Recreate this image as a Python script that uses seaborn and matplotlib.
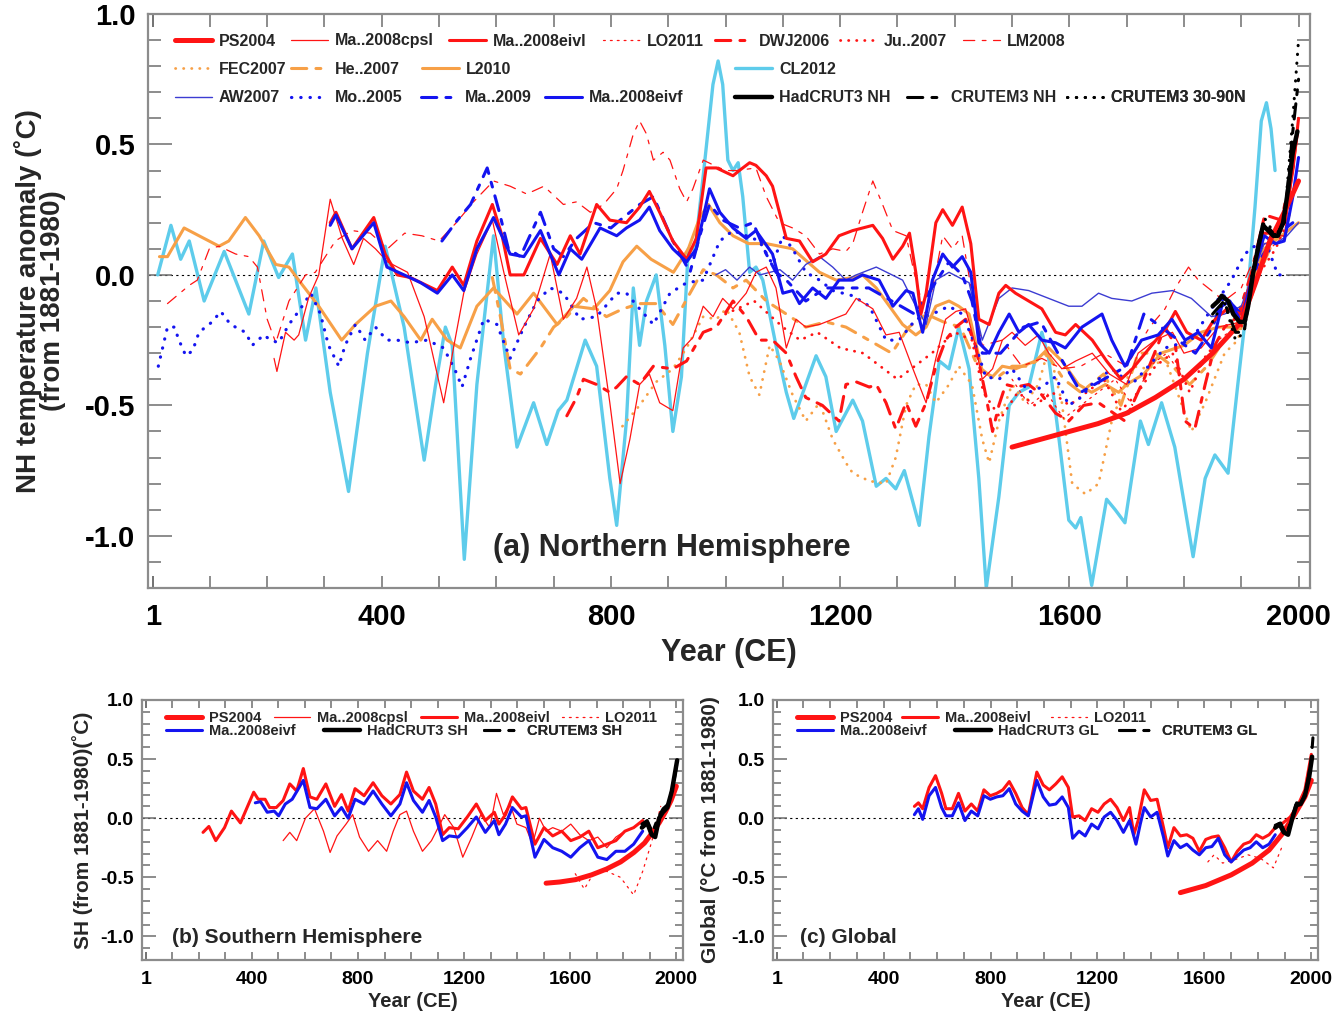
import matplotlib
matplotlib.use("Agg")
import matplotlib.pyplot as plt
from matplotlib.lines import Line2D
from matplotlib.ticker import FixedLocator, MultipleLocator, FuncFormatter
import seaborn as sns

# ---------------------------------------------------------------------------
# (a) Northern Hemisphere reconstructions: year CE, anomaly (degC, 1881-1980)
# ---------------------------------------------------------------------------
ps2004_yr = [1500, 1550, 1600, 1650, 1700, 1750, 1800, 1850, 1875, 1900, 1925, 1950, 1975, 2000]
ps2004_t = [-0.66, -0.63, -0.60, -0.57, -0.53, -0.47, -0.40, -0.30, -0.24, -0.18, -0.03, 0.13, 0.24, 0.36]

cpsl_yr = [212, 217, 232, 247, 255, 272, 290, 310, 331, 351, 368, 389, 410, 445, 474, 508, 526, 543,
           566, 593, 613, 639, 665, 694, 717, 740, 758, 775, 798, 816, 833, 850, 867, 885, 908, 926,
           943, 961, 978, 995, 1013, 1036, 1053, 1071, 1088, 1106, 1123, 1140, 1164, 1187, 1210, 1228,
           1257, 1280, 1303, 1327, 1350, 1367, 1384, 1402, 1419, 1436, 1448, 1466, 1483, 1500, 1523,
           1546, 1564, 1587, 1611, 1640, 1670, 1700, 1720, 1750, 1780, 1800, 1830, 1860, 1900, 1930,
           1950, 1975, 2000]
cpsl_t = [-0.32, -0.37, -0.22, -0.25, -0.23, -0.09, 0.00, 0.29, 0.14, 0.04, 0.14, 0.10, 0.05, 0.01,
          -0.16, -0.49, -0.27, -0.07, 0.08, 0.21, 0.01, -0.23, -0.13, 0.08, -0.17, -0.09, 0.03, -0.13,
          -0.49, -0.80, -0.63, -0.42, -0.38, -0.49, -0.52, -0.28, -0.24, -0.12, -0.16, -0.09, -0.13,
          -0.07, 0.01, 0.03, -0.05, -0.28, -0.17, -0.20, -0.19, -0.17, -0.15, -0.09, -0.13, -0.23,
          -0.22, -0.36, -0.49, -0.32, -0.17, -0.14, -0.13, -0.27, -0.40, -0.36, -0.25, -0.22, -0.27,
          -0.23, -0.30, -0.36, -0.33, -0.30, -0.38, -0.42, -0.30, -0.25, -0.22, -0.30, -0.28, -0.20,
          -0.18, 0.00, 0.15, 0.15, 0.55]

eivl_yr = [310, 320, 348, 386, 406, 427, 450, 497, 523, 543, 566, 593, 610, 624, 648, 677, 706, 729,
           746, 775, 798, 827, 850, 867, 885, 908, 932, 949, 966, 984, 1013, 1024, 1042, 1053, 1071,
           1082, 1106, 1129, 1152, 1175, 1198, 1222, 1257, 1274, 1292, 1309, 1321, 1332, 1341, 1350,
           1367, 1379, 1396, 1413, 1428, 1442, 1460, 1477, 1489, 1506, 1529, 1552, 1576, 1593, 1611,
           1640, 1665, 1690, 1710, 1740, 1770, 1785, 1805, 1830, 1850, 1875, 1900, 1920, 1940, 1960,
           1975, 1990, 2000]
eivl_t = [0.20, 0.24, 0.10, 0.22, 0.08, 0.00, -0.01, -0.06, 0.03, -0.04, 0.13, 0.27, 0.15, 0.00, 0.00,
          0.14, 0.04, 0.15, 0.08, 0.27, 0.21, 0.20, 0.26, 0.32, 0.24, 0.13, 0.06, 0.14, 0.41, 0.41,
          0.38, 0.40, 0.43, 0.42, 0.38, 0.34, 0.14, 0.13, 0.05, 0.08, 0.15, 0.17, 0.19, 0.14, 0.06,
          0.11, 0.16, 0.01, -0.15, -0.07, 0.20, 0.25, 0.19, 0.26, 0.12, -0.17, -0.19, -0.07, -0.04,
          -0.07, -0.10, -0.13, -0.22, -0.23, -0.19, -0.25, -0.33, -0.40, -0.36, -0.28, -0.20, -0.14,
          -0.22, -0.25, -0.18, -0.13, -0.15, 0.00, 0.16, 0.16, 0.20, 0.40, 0.60]

lo2011_yr = [1500, 1530, 1560, 1590, 1620, 1650, 1680, 1710, 1740, 1770, 1800, 1830, 1860, 1890, 1920, 1950, 1975]
lo2011_t = [-0.40, -0.50, -0.45, -0.55, -0.50, -0.45, -0.40, -0.50, -0.35, -0.30, -0.40, -0.35, -0.25, -0.20, -0.05, 0.10, 0.15]

dwj_yr = [723, 740, 752, 775, 798, 810, 827, 850, 874, 908, 932, 961, 984, 1013, 1036, 1059, 1082,
          1106, 1123, 1140, 1169, 1198, 1210, 1228, 1251, 1263, 1280, 1297, 1315, 1332, 1350, 1367,
          1384, 1402, 1419, 1436, 1454, 1466, 1477, 1489, 1506, 1529, 1552, 1576, 1599, 1625, 1651,
          1697, 1732, 1767, 1785, 1802, 1819, 1837, 1854, 1871, 1894, 1918, 1941, 1970, 1993]
dwj_t = [-0.54, -0.47, -0.40, -0.42, -0.45, -0.43, -0.39, -0.42, -0.35, -0.36, -0.33, -0.22, -0.20,
         -0.10, -0.16, -0.25, -0.25, -0.30, -0.39, -0.47, -0.50, -0.56, -0.42, -0.41, -0.43, -0.42,
         -0.49, -0.59, -0.49, -0.58, -0.49, -0.35, -0.25, -0.20, -0.17, -0.27, -0.46, -0.60, -0.50,
         -0.42, -0.43, -0.42, -0.46, -0.53, -0.56, -0.50, -0.49, -0.56, -0.39, -0.20, -0.27, -0.56,
         -0.59, -0.42, -0.27, -0.20, -0.16, 0.01, 0.23, 0.21, 0.44]

ju2007_yr = [1000, 1050, 1100, 1130, 1160, 1200, 1240, 1270, 1300, 1330, 1360, 1400, 1430, 1450, 1480,
             1510, 1540, 1570, 1600, 1630, 1660, 1690, 1720, 1750, 1780, 1810, 1840, 1870, 1900, 1930,
             1960, 1980]
ju2007_t = [-0.15, -0.10, -0.20, -0.25, -0.22, -0.28, -0.30, -0.35, -0.40, -0.35, -0.30, -0.22, -0.25,
            -0.45, -0.55, -0.45, -0.50, -0.45, -0.50, -0.45, -0.40, -0.52, -0.45, -0.35, -0.30, -0.45,
            -0.30, -0.25, -0.20, 0.00, 0.10, 0.20]

lm2008_yr = [26, 64, 78, 99, 116, 145, 168, 183, 200, 215, 238, 267, 284, 319, 348, 380, 410, 440, 470,
             500, 530, 560, 595, 624, 653, 683, 717, 740, 764, 787, 810, 821, 839, 850, 862, 874, 891,
             903, 920, 932, 943, 961, 980, 1000, 1020, 1053, 1071, 1094, 1117, 1140, 1164, 1187, 1210,
             1222, 1239, 1257, 1274, 1292, 1315, 1332, 1350, 1367, 1379, 1396, 1413, 1430, 1448, 1483,
             1517, 1552, 1587, 1620, 1660, 1700, 1740, 1767, 1785, 1808, 1825, 1848, 1870, 1900, 1930,
             1960, 1990]
lm2008_t = [-0.11, -0.04, -0.02, 0.10, 0.11, 0.08, 0.07, 0.03, -0.17, -0.26, -0.10, 0.00, 0.01, 0.13,
            0.17, 0.16, 0.10, 0.16, 0.15, 0.13, 0.20, 0.28, 0.36, 0.34, 0.31, 0.34, 0.27, 0.28, 0.24,
            0.27, 0.33, 0.40, 0.54, 0.59, 0.54, 0.44, 0.47, 0.44, 0.33, 0.28, 0.33, 0.44, 0.42, 0.40,
            0.40, 0.41, 0.30, 0.20, 0.18, 0.15, 0.08, 0.10, 0.09, 0.12, 0.24, 0.36, 0.27, 0.17, 0.15,
            -0.02, -0.16, 0.01, 0.15, 0.10, 0.15, -0.07, -0.27, -0.25, -0.35, -0.32, -0.36, -0.35,
            -0.30, -0.35, -0.20, -0.13, -0.05, 0.03, -0.02, -0.06, -0.10, -0.05, 0.10, 0.15, 0.30]

fec_yr = [820, 850, 879, 908, 932, 961, 984, 1001, 1024, 1042, 1059, 1077, 1094, 1117, 1140, 1164,
          1187, 1210, 1222, 1251, 1280, 1297, 1315, 1332, 1350, 1367, 1390, 1407, 1430, 1448, 1460,
          1477, 1500, 1523, 1546, 1564, 1587, 1605, 1628, 1651, 1674, 1709, 1738, 1767, 1813, 1837,
          1871, 1894, 1918, 1941, 1964, 1987]
fec_t = [-0.58, -0.50, -0.41, -0.36, -0.28, -0.16, -0.17, -0.13, -0.22, -0.39, -0.46, -0.27, -0.33,
         -0.46, -0.56, -0.49, -0.63, -0.72, -0.76, -0.79, -0.80, -0.70, -0.50, -0.42, -0.42, -0.49,
         -0.42, -0.35, -0.42, -0.63, -0.72, -0.56, -0.42, -0.49, -0.42, -0.28, -0.49, -0.80, -0.84,
         -0.80, -0.56, -0.35, -0.36, -0.32, -0.60, -0.49, -0.30, -0.25, -0.06, 0.15, 0.18, 0.29]

he2007_yr = [593, 607, 624, 642, 677, 700, 723, 752, 792, 821, 850, 879, 908, 938, 961, 984, 1013, 1036,
             1071, 1106, 1140, 1175, 1210, 1250, 1290, 1320, 1350, 1380, 1410, 1440, 1470, 1500, 1530,
             1560, 1590, 1620, 1660, 1690, 1720, 1750, 1780, 1810, 1840, 1870, 1900, 1930, 1960, 1990]
he2007_t = [-0.01, -0.16, -0.36, -0.38, -0.28, -0.20, -0.16, -0.09, -0.16, -0.13, -0.11, -0.11, -0.19,
            -0.07, 0.02, 0.00, -0.05, -0.02, -0.10, -0.15, -0.20, -0.18, -0.20, -0.25, -0.30, -0.20,
            -0.15, -0.18, -0.20, -0.35, -0.40, -0.35, -0.35, -0.30, -0.40, -0.45, -0.38, -0.50, -0.30,
            -0.30, -0.35, -0.42, -0.35, -0.25, -0.20, 0.00, 0.15, 0.25]

l2010_yr = [12, 26, 55, 81, 116, 133, 162, 186, 215, 238, 255, 290, 330, 354, 389, 416, 439, 468, 488,
            514, 537, 566, 595, 636, 665, 706, 735, 770, 798, 821, 845, 870, 909, 935, 955, 970, 990,
            1013, 1040, 1071, 1117, 1164, 1193, 1222, 1239, 1263, 1286, 1309, 1332, 1350, 1367, 1390,
            1407, 1425, 1448, 1466, 1483, 1506, 1541, 1564, 1587, 1616, 1639, 1663, 1686, 1700, 1730,
            1760, 1800, 1830, 1860, 1890, 1910, 1940, 1970, 2000]
l2010_t = [0.07, 0.07, 0.18, 0.15, 0.11, 0.13, 0.22, 0.15, 0.04, 0.03, -0.02, -0.12, -0.25, -0.19,
           -0.12, -0.10, -0.16, -0.25, -0.17, -0.25, -0.28, -0.12, -0.05, -0.15, -0.07, -0.19, -0.12,
           -0.13, -0.06, 0.05, 0.11, 0.06, 0.01, 0.10, 0.22, 0.27, 0.20, 0.15, 0.12, 0.12, 0.10, 0.01,
           -0.02, -0.01, 0.00, -0.05, -0.12, -0.19, -0.23, -0.20, -0.12, -0.10, -0.12, -0.15, -0.37,
           -0.39, -0.35, -0.36, -0.33, -0.28, -0.33, -0.42, -0.45, -0.42, -0.45, -0.42, -0.38, -0.30,
           -0.27, -0.22, -0.20, -0.20, -0.10, 0.10, 0.15, 0.20]

cl2012_yr = [9, 32, 49, 64, 90, 125, 168, 194, 220, 244, 267, 285, 310, 342, 375, 406, 439, 474, 494,
             511, 523, 544, 566, 595, 613, 636, 665, 688, 708, 723, 755, 775, 798, 810, 827, 839, 850,
             862, 879, 894, 908, 923, 935, 947, 961, 978, 987, 995, 1004, 1013, 1022, 1030, 1042, 1053,
             1065, 1088, 1106, 1119, 1140, 1158, 1175, 1193, 1222, 1239, 1263, 1280, 1297, 1312, 1338,
             1355, 1373, 1390, 1407, 1425, 1442, 1455, 1477, 1495, 1512, 1529, 1552, 1564, 1582, 1599,
             1611, 1620, 1639, 1665, 1680, 1697, 1724, 1738, 1761, 1784, 1816, 1837, 1854, 1877, 1894,
             1909, 1924, 1935, 1944, 1952, 1959]
cl2012_t = [0.00, 0.19, 0.06, 0.13, -0.10, 0.09, -0.15, 0.13, -0.01, 0.08, -0.25, -0.05, -0.45, -0.83,
            -0.30, 0.11, -0.20, -0.71, -0.42, -0.20, -0.27, -1.09, -0.42, 0.15, -0.27, -0.66, -0.49,
            -0.65, -0.52, -0.48, -0.25, -0.35, -0.78, -0.96, -0.56, -0.05, -0.27, -0.10, 0.00, -0.27,
            -0.60, -0.39, 0.10, 0.10, 0.38, 0.73, 0.82, 0.73, 0.44, 0.40, 0.43, 0.30, 0.01, 0.03, -0.02,
            -0.27, -0.45, -0.55, -0.42, -0.31, -0.39, -0.60, -0.48, -0.56, -0.81, -0.78, -0.82, -0.75,
            -0.96, -0.62, -0.33, -0.36, -0.20, -0.36, -0.78, -1.20, -0.85, -0.50, -0.45, -0.43, -0.22,
            -0.32, -0.63, -0.94, -0.97, -0.93, -1.19, -0.86, -0.90, -0.95, -0.56, -0.65, -0.49, -0.66,
            -1.08, -0.78, -0.69, -0.76, -0.42, -0.13, 0.26, 0.59, 0.66, 0.56, 0.40]

aw2007_yr = [983, 1000, 1020, 1042, 1060, 1095, 1117, 1140, 1164, 1187, 1210, 1228, 1263, 1309, 1332,
             1350, 1367, 1390, 1425, 1448, 1477, 1500, 1529, 1564, 1599, 1622, 1651, 1674, 1709, 1744,
             1780, 1813, 1848, 1871, 1900, 1920, 1940, 1960, 1980, 2000]
aw2007_t = [0.00, 0.02, -0.02, 0.03, 0.00, 0.02, -0.02, 0.04, 0.07, 0.03, -0.02, 0.00, 0.03, -0.02,
            -0.12, -0.19, -0.02, 0.01, -0.03, -0.25, -0.09, -0.05, -0.06, -0.09, -0.12, -0.12, -0.07,
            -0.09, -0.10, -0.07, -0.06, -0.09, -0.16, -0.15, -0.12, 0.00, 0.12, 0.12, 0.15, 0.20]

mo2005_yr = [10, 26, 38, 46, 58, 70, 81, 104, 119, 136, 162, 174, 194, 206, 220, 238, 258, 276, 293,
             307, 325, 336, 354, 371, 389, 409, 427, 450, 479, 508, 529, 540, 555, 578, 601, 624, 648,
             671, 694, 717, 746, 775, 810, 827, 850, 874, 903, 932, 961, 990, 1013, 1036, 1059, 1082,
             1100, 1117, 1140, 1164, 1187, 1222, 1251, 1280, 1303, 1332, 1361, 1390, 1413, 1436, 1454,
             1477, 1500, 1529, 1552, 1576, 1599, 1620, 1639, 1674, 1709, 1738, 1767, 1813, 1848, 1883,
             1906, 1929, 1947, 1964, 1975]
mo2005_t = [-0.35, -0.20, -0.20, -0.25, -0.31, -0.29, -0.22, -0.18, -0.14, -0.19, -0.22, -0.27, -0.23,
            -0.25, -0.26, -0.19, -0.13, -0.07, -0.15, -0.27, -0.35, -0.27, -0.19, -0.25, -0.20, -0.25,
            -0.25, -0.26, -0.25, -0.28, -0.37, -0.43, -0.32, -0.17, -0.19, -0.32, -0.20, -0.10, -0.05,
            -0.07, -0.17, -0.16, -0.07, -0.07, -0.13, -0.19, -0.07, -0.03, -0.02, 0.13, 0.17, 0.15,
            0.13, 0.04, 0.15, 0.10, 0.01, -0.02, -0.06, -0.08, -0.12, -0.25, -0.25, -0.17, -0.15,
            -0.12, -0.15, -0.27, -0.39, -0.40, -0.36, -0.45, -0.43, -0.39, -0.50, -0.47, -0.42, -0.36,
            -0.42, -0.35, -0.28, -0.25, -0.13, -0.02, 0.08, 0.12, 0.10, 0.00, 0.00]

ma2009_yr = [505, 532, 555, 584, 604, 621, 642, 677, 700, 717, 740, 770, 800, 816, 850, 874, 908, 938,
             955, 972, 995, 1024, 1048, 1071, 1088, 1106, 1140, 1175, 1210, 1250, 1290, 1330, 1360,
             1390, 1413, 1430, 1448, 1480, 1520, 1550, 1580, 1620, 1660, 1700, 1730, 1760, 1790, 1820,
             1850, 1870, 1900, 1930, 1960, 1990]
ma2009_t = [0.13, 0.21, 0.27, 0.41, 0.25, 0.10, 0.07, 0.24, 0.10, 0.07, 0.14, 0.20, 0.18, 0.21, 0.27,
            0.30, 0.13, 0.01, 0.15, 0.27, 0.21, 0.18, 0.20, 0.08, 0.01, -0.02, -0.10, -0.05, -0.05,
            -0.05, -0.10, -0.15, -0.05, 0.05, 0.00, -0.10, -0.30, -0.30, -0.20, -0.18, -0.30, -0.45,
            -0.40, -0.35, -0.15, -0.20, -0.25, -0.30, -0.20, -0.08, -0.15, 0.05, 0.15, 0.20]

eivf_yr = [310, 320, 348, 386, 409, 439, 468, 497, 523, 543, 566, 595, 624, 648, 677, 709, 729, 749,
           781, 810, 827, 850, 867, 885, 908, 932, 949, 972, 990, 1013, 1036, 1053, 1082, 1100, 1117,
           1129, 1152, 1175, 1198, 1222, 1239, 1268, 1292, 1315, 1327, 1344, 1361, 1379, 1396, 1413,
           1428, 1442, 1460, 1477, 1495, 1512, 1529, 1552, 1576, 1593, 1622, 1657, 1674, 1697, 1726,
           1755, 1779, 1802, 1825, 1848, 1866, 1880, 1900, 1920, 1940, 1960, 1975, 1990, 2000]
eivf_t = [0.19, 0.23, 0.10, 0.20, 0.03, 0.00, -0.03, -0.07, 0.00, -0.06, 0.10, 0.22, 0.08, 0.07, 0.17,
          0.00, 0.10, 0.06, 0.18, 0.15, 0.18, 0.21, 0.26, 0.17, 0.10, 0.05, 0.10, 0.33, 0.24, 0.18,
          0.14, 0.17, 0.08, -0.07, -0.06, -0.11, -0.05, -0.09, -0.02, -0.02, 0.00, -0.02, -0.12,
          -0.06, -0.07, -0.22, -0.02, 0.08, 0.03, 0.07, 0.01, -0.26, -0.30, -0.22, -0.15, -0.22,
          -0.19, -0.25, -0.26, -0.28, -0.20, -0.15, -0.25, -0.35, -0.25, -0.23, -0.17, -0.25, -0.22,
          -0.28, -0.12, -0.10, -0.18, 0.00, 0.15, 0.12, 0.13, 0.30, 0.45]

hadnh_yr = [1850, 1860, 1866, 1877, 1886, 1897, 1906, 1912, 1921, 1929, 1938, 1947, 1956, 1964, 1973, 1982, 1990, 1998]
hadnh_t = [-0.12, -0.10, -0.08, -0.10, -0.15, -0.18, -0.18, -0.12, 0.01, 0.10, 0.19, 0.17, 0.15, 0.15, 0.20, 0.33, 0.47, 0.55]

crunh_yr = [1850, 1870, 1890, 1905, 1920, 1940, 1960, 1975, 1990, 2000]
crunh_t = [-0.15, -0.10, -0.22, -0.22, 0.00, 0.20, 0.15, 0.20, 0.55, 0.75]

cru3090_yr = [1850, 1870, 1890, 1905, 1920, 1940, 1960, 1975, 1990, 2000]
cru3090_t = [-0.18, -0.10, -0.25, -0.22, 0.02, 0.22, 0.15, 0.20, 0.60, 0.90]

# ---------------------------------------------------------------------------
# (b) Southern Hemisphere
# ---------------------------------------------------------------------------
sh_ps_yr = [1509, 1560, 1620, 1680, 1737, 1790, 1840, 1880, 1907, 1935, 1958, 1980, 2000]
sh_ps_t = [-0.55, -0.54, -0.52, -0.48, -0.43, -0.37, -0.29, -0.21, -0.13, -0.04, 0.05, 0.15, 0.27]

sh_cpsl_yr = [518, 543, 569, 602, 636, 670, 695, 721, 755, 780, 806, 840, 874, 908, 933, 958, 983, 1009,
              1043, 1077, 1102, 1127, 1161, 1195, 1229, 1263, 1297, 1322, 1348, 1373, 1399, 1433, 1458,
              1484, 1509, 1534, 1568, 1602, 1636, 1670, 1704, 1738, 1772, 1806, 1839]
sh_cpsl_t = [-0.19, -0.12, -0.19, 0.00, 0.08, -0.11, -0.29, -0.15, -0.05, 0.03, -0.16, -0.28, -0.19,
             -0.28, -0.11, 0.03, 0.06, -0.11, -0.28, -0.19, -0.08, 0.03, -0.08, -0.33, -0.16, 0.03,
             -0.08, 0.21, 0.03, 0.12, -0.05, -0.08, -0.22, 0.00, -0.11, -0.08, -0.11, -0.05, -0.14,
             -0.19, -0.16, -0.25, -0.16, -0.11, -0.08]

sh_eivl_yr = [216, 238, 264, 297, 323, 357, 407, 424, 450, 467, 492, 518, 543, 569, 594, 619, 645, 679,
              712, 738, 763, 789, 823, 857, 890, 924, 958, 983, 1009, 1043, 1068, 1093, 1119, 1144, 1178,
              1212, 1246, 1280, 1314, 1331, 1356, 1382, 1416, 1433, 1467, 1501, 1534, 1568, 1602, 1636,
              1670, 1704, 1738, 1772, 1806, 1839, 1873]
sh_eivl_t = [-0.12, -0.07, -0.19, -0.08, 0.06, -0.04, 0.22, 0.16, 0.16, 0.09, 0.09, 0.15, 0.29, 0.23,
             0.42, 0.18, 0.16, 0.29, 0.10, 0.20, 0.06, 0.25, 0.19, 0.30, 0.19, 0.12, 0.20, 0.39, 0.23,
             0.16, 0.26, 0.12, -0.14, -0.08, -0.09, 0.01, 0.12, -0.02, 0.05, -0.05, 0.03, 0.18, 0.08,
             0.09, -0.22, -0.08, -0.15, -0.11, -0.19, -0.16, -0.11, -0.25, -0.22, -0.19, -0.11, -0.08,
             -0.02]

sh_lo_yr = [1619, 1653, 1687, 1738, 1789, 1839, 1873, 1907, 1941]
sh_lo_t = [-0.47, -0.60, -0.47, -0.45, -0.50, -0.65, -0.45, -0.20, 0.10]

sh_eivf_yr = [413, 433, 458, 484, 501, 526, 552, 594, 619, 645, 679, 712, 738, 763, 789, 823, 857, 890,
              924, 958, 983, 1009, 1043, 1068, 1093, 1119, 1144, 1178, 1212, 1246, 1280, 1314, 1331,
              1356, 1382, 1416, 1433, 1467, 1501, 1534, 1568, 1602, 1636, 1670, 1704, 1738, 1772, 1806,
              1839, 1873]
sh_eivf_t = [0.13, 0.14, 0.05, 0.06, 0.02, 0.12, 0.16, 0.32, 0.09, 0.08, 0.16, 0.02, 0.09, 0.00, 0.16,
             0.12, 0.23, 0.12, 0.02, 0.12, 0.30, 0.15, 0.05, 0.15, 0.01, -0.19, -0.15, -0.16, -0.08,
             0.01, -0.12, -0.02, -0.14, -0.05, 0.09, 0.01, 0.02, -0.33, -0.18, -0.25, -0.28, -0.33,
             -0.25, -0.19, -0.33, -0.35, -0.28, -0.28, -0.22, -0.11]

sh_had_yr = [1870, 1890, 1907, 1920, 1935, 1949, 1966, 1983, 2003]
sh_had_t = [-0.08, -0.04, -0.14, -0.16, 0.00, 0.05, 0.09, 0.23, 0.49]

sh_cru_yr = [1870, 1890, 1910, 1930, 1950, 1970, 1990, 2003]
sh_cru_t = [-0.05, -0.02, -0.12, 0.00, 0.08, 0.12, 0.30, 0.48]

# ---------------------------------------------------------------------------
# (c) Global
# ---------------------------------------------------------------------------
gl_ps_yr = [1510, 1605, 1700, 1779, 1842, 1889, 1937, 1976, 2000]
gl_ps_t = [-0.63, -0.57, -0.48, -0.38, -0.27, -0.14, 0.03, 0.18, 0.32]

gl_eivl_yr = [515, 530, 546, 570, 594, 617, 633, 657, 680, 704, 728, 752, 775, 799, 823, 846, 870, 894,
              918, 941, 973, 997, 1020, 1044, 1068, 1091, 1107, 1131, 1154, 1178, 1202, 1225, 1249, 1273,
              1297, 1320, 1336, 1352, 1375, 1399, 1423, 1447, 1463, 1486, 1510, 1534, 1557, 1581, 1605,
              1628, 1652, 1676, 1700, 1723, 1747, 1771, 1794, 1818, 1842, 1865, 1889, 1921, 1952, 1976,
              2000]
gl_eivl_t = [0.10, 0.13, 0.08, 0.26, 0.36, 0.21, 0.08, 0.08, 0.21, 0.06, 0.12, 0.06, 0.24, 0.19, 0.21,
             0.24, 0.31, 0.21, 0.09, 0.03, 0.39, 0.28, 0.24, 0.29, 0.35, 0.26, 0.01, 0.02, -0.02, 0.08,
             0.05, 0.12, 0.16, 0.09, -0.02, 0.09, -0.14, -0.02, 0.24, 0.15, 0.16, -0.08, -0.25, -0.08,
             -0.15, -0.14, -0.17, -0.28, -0.18, -0.16, -0.15, -0.25, -0.37, -0.28, -0.22, -0.20, -0.14,
             -0.17, -0.14, -0.08, -0.05, 0.01, 0.12, 0.24, 0.54]

gl_lo_yr = [1613, 1636, 1668, 1716, 1763, 1810, 1858, 1889]
gl_lo_t = [-0.37, -0.31, -0.38, -0.35, -0.31, -0.34, -0.42, -0.25]

gl_eivf_yr = [515, 530, 546, 570, 594, 617, 633, 657, 680, 704, 728, 752, 775, 799, 823, 846, 870, 894,
              918, 941, 973, 997, 1020, 1044, 1068, 1091, 1107, 1131, 1154, 1178, 1202, 1225, 1249, 1273,
              1297, 1320, 1344, 1360, 1375, 1399, 1423, 1447, 1463, 1486, 1510, 1534, 1557, 1581, 1605,
              1628, 1652, 1676, 1700, 1723, 1747, 1771, 1794, 1818, 1842, 1865]
gl_eivf_t = [0.03, 0.08, -0.01, 0.19, 0.26, 0.09, 0.02, 0.02, 0.13, -0.02, 0.06, 0.02, 0.19, 0.16, 0.18,
             0.19, 0.25, 0.12, 0.06, 0.02, 0.32, 0.18, 0.11, 0.12, 0.18, 0.09, -0.17, -0.11, -0.15, -0.05,
             -0.09, 0.01, 0.05, -0.02, -0.12, -0.02, -0.22, -0.05, 0.09, 0.01, 0.05, -0.16, -0.32,
             -0.19, -0.25, -0.22, -0.27, -0.31, -0.25, -0.24, -0.17, -0.31, -0.37, -0.32, -0.27, -0.25,
             -0.20, -0.25, -0.22, -0.14]

gl_had_yr = [1865, 1881, 1897, 1913, 1929, 1944, 1960, 1976, 1992, 2003]
gl_had_t = [-0.08, -0.05, -0.12, -0.14, 0.00, 0.11, 0.12, 0.19, 0.35, 0.52]

gl_cru_yr = [1865, 1885, 1905, 1925, 1945, 1965, 1985, 2000, 2006]
gl_cru_t = [-0.06, -0.04, -0.14, -0.02, 0.13, 0.12, 0.30, 0.50, 0.68]

# ---------------------------------------------------------------------------
# Line styles
# ---------------------------------------------------------------------------
RED = "#FF1414"
BLUE = "#1414F0"
LBLUE = "#3C3CD2"
ORANGE = "#F7A047"
CYAN = "#5ECCEB"
LONGSHORT = (0, (5, 3, 1.6, 3))
THIN_LS = (0, (9, 6, 3, 6))
DOTS = (0, (0.1, 2.8))
FINE_DOTS = (0, (1.5, 4))

STYLE = {
    "PS2004": dict(color=RED, lw=3.6, ls="-"),
    "Ma..2008cpsl": dict(color=RED, lw=0.9, ls="-"),
    "Ma..2008eivl": dict(color=RED, lw=2.2, ls="-"),
    "LO2011": dict(color=RED, lw=0.9, ls=FINE_DOTS),
    "DWJ2006": dict(color=RED, lw=2.2, ls=LONGSHORT),
    "Ju..2007": dict(color=RED, lw=2.0, ls=DOTS),
    "LM2008": dict(color=RED, lw=0.9, ls=THIN_LS),
    "FEC2007": dict(color=ORANGE, lw=2.0, ls=DOTS),
    "He..2007": dict(color=ORANGE, lw=2.2, ls=LONGSHORT),
    "L2010": dict(color=ORANGE, lw=2.2, ls="-"),
    "CL2012": dict(color=CYAN, lw=2.4, ls="-"),
    "AW2007": dict(color=LBLUE, lw=1.0, ls="-"),
    "Mo..2005": dict(color=BLUE, lw=2.3, ls=DOTS),
    "Ma..2009": dict(color=BLUE, lw=2.2, ls=LONGSHORT),
    "Ma..2008eivf": dict(color=BLUE, lw=2.2, ls="-"),
    "HadCRUT3": dict(color="black", lw=3.2, ls="-"),
    "CRUTEM3": dict(color="black", lw=2.2, ls=LONGSHORT),
    "CRUTEM3 30-90N": dict(color="black", lw=2.2, ls=DOTS),
}


def draw(ax, x, y, key):
    st = STYLE[key]
    sns.lineplot(x=x, y=y, ax=ax, color=st["color"], linewidth=st["lw"], linestyle=st["ls"],
                 dash_capstyle="round", solid_capstyle="round", sort=False, estimator=None,
                 legend=False)


def handle(key):
    st = STYLE[key]
    return Line2D([0], [0], color=st["color"], linewidth=st["lw"], linestyle=st["ls"],
                  dash_capstyle="round")


sns.set_theme(style="ticks")
plt.rcParams["font.family"] = ["Liberation Sans", "DejaVu Sans"]
plt.rcParams["font.weight"] = "bold"
plt.rcParams["axes.labelweight"] = "bold"

W, H = 1344, 1014
fig = plt.figure(figsize=(W / 100, H / 100), dpi=100)
fig.patch.set_facecolor("white")

BOX_A = (148, 1310, 14, 588)
BOX_B = (142, 683, 700, 960)
BOX_C = (773, 1318, 700, 960)


def make_axes(box):
    l, r, t, b = box
    return fig.add_axes([l / W, 1 - b / H, (r - l) / W, (b - t) / H])


def style_axes(ax, xlim, labelsize, ylen, xlen, ypad, xpad):
    ax.set_xlim(*xlim)
    ax.set_ylim(-1.2, 1.0)
    ax.set_facecolor("white")
    ax.xaxis.set_major_locator(FixedLocator([1, 400, 800, 1200, 1600, 2000]))
    ax.xaxis.set_minor_locator(MultipleLocator(100))
    ax.yaxis.set_major_locator(FixedLocator([-1.0, -0.5, 0.0, 0.5, 1.0]))
    ax.yaxis.set_minor_locator(MultipleLocator(0.1))
    ax.yaxis.set_major_formatter(FuncFormatter(lambda v, p: f"{v:.1f}"))
    ax.xaxis.set_major_formatter(FuncFormatter(lambda v, p: f"{int(v)}"))
    ax.tick_params(which="both", direction="in", top=True, right=True, colors="#6E6E6E",
                   labelcolor="black", labelsize=labelsize, width=1.1)
    ax.tick_params(axis="y", which="major", length=ylen, pad=ypad)
    ax.tick_params(axis="y", which="minor", length=ylen * 0.55)
    ax.tick_params(axis="x", which="both", length=xlen, pad=xpad)
    for s in ax.spines.values():
        s.set_color("#8C8C8C")
        s.set_linewidth(1.6)
    ax.axhline(0.0, color="black", lw=0.8, ls=(0, (2, 3)), zorder=0.5)
    ax.grid(False)


def legend_entry(ax, box, key, label, x_px, y_px, fs, hl):
    l, r, t, b = box
    leg = ax.legend([handle(key)], [label], loc="center left",
                    bbox_to_anchor=((x_px - l) / (r - l), (b - y_px) / (b - t)),
                    frameon=False, fontsize=fs, handlelength=hl, handletextpad=0.45,
                    borderpad=0, borderaxespad=0)
    ax.add_artist(leg)


# ------------------------------- panel (a) ---------------------------------
axA = make_axes(BOX_A)
style_axes(axA, (-8, 2020), 21, 17, 9, 9, 11)

draw(axA, cl2012_yr, cl2012_t, "CL2012")
draw(axA, l2010_yr, l2010_t, "L2010")
draw(axA, he2007_yr, he2007_t, "He..2007")
draw(axA, fec_yr, fec_t, "FEC2007")
draw(axA, lm2008_yr, lm2008_t, "LM2008")
draw(axA, ju2007_yr, ju2007_t, "Ju..2007")
draw(axA, lo2011_yr, lo2011_t, "LO2011")
draw(axA, dwj_yr, dwj_t, "DWJ2006")
draw(axA, mo2005_yr, mo2005_t, "Mo..2005")
draw(axA, aw2007_yr, aw2007_t, "AW2007")
draw(axA, cpsl_yr, cpsl_t, "Ma..2008cpsl")
draw(axA, ma2009_yr, ma2009_t, "Ma..2009")
draw(axA, eivl_yr, eivl_t, "Ma..2008eivl")
draw(axA, eivf_yr, eivf_t, "Ma..2008eivf")
draw(axA, ps2004_yr, ps2004_t, "PS2004")
draw(axA, cru3090_yr, cru3090_t, "CRUTEM3 30-90N")
draw(axA, crunh_yr, crunh_t, "CRUTEM3")
draw(axA, hadnh_yr, hadnh_t, "HadCRUT3")

axA.set_xlabel("Year (CE)", fontsize=22, labelpad=5)
axA.set_ylabel("NH temperature anomaly (˚C)\n(from 1881-1980)", fontsize=20,
               labelpad=14, linespacing=0.9)
axA.text(0.451, 0.07, "(a) Northern Hemisphere", transform=axA.transAxes, fontsize=22,
         ha="center", va="center")

rows_a = [
    [("PS2004", "PS2004", 175), ("Ma..2008cpsl", "Ma..2008cpsl", 291),
     ("Ma..2008eivl", "Ma..2008eivl", 449), ("LO2011", "LO2011", 603),
     ("DWJ2006", "DWJ2006", 715), ("Ju..2007", "Ju..2007", 840), ("LM2008", "LM2008", 963)],
    [("FEC2007", "FEC2007", 175), ("He..2007", "He..2007", 291), ("L2010", "L2010", 422),
     ("CL2012", "CL2012", 735)],
    [("AW2007", "AW2007", 175), ("Mo..2005", "Mo..2005", 291), ("Ma..2009", "Ma..2009", 421),
     ("Ma..2008eivf", "Ma..2008eivf", 545), ("HadCRUT3", "HadCRUT3 NH", 735),
     ("CRUTEM3", "CRUTEM3 NH", 907), ("CRUTEM3 30-90N", "CRUTEM3 30-90N", 1067)],
]
for row, y_px in zip(rows_a, [41, 69, 98]):
    for key, label, x_px in row:
        legend_entry(axA, BOX_A, key, label, x_px, y_px, 11.5, 2.3)

# ------------------------------- panel (b) ---------------------------------
axB = make_axes(BOX_B)
style_axes(axB, (-14, 2025), 14, 10, 6, 6, 8)
draw(axB, sh_lo_yr, sh_lo_t, "LO2011")
draw(axB, sh_cpsl_yr, sh_cpsl_t, "Ma..2008cpsl")
draw(axB, sh_eivl_yr, sh_eivl_t, "Ma..2008eivl")
draw(axB, sh_eivf_yr, sh_eivf_t, "Ma..2008eivf")
draw(axB, sh_ps_yr, sh_ps_t, "PS2004")
draw(axB, sh_cru_yr, sh_cru_t, "CRUTEM3")
draw(axB, sh_had_yr, sh_had_t, "HadCRUT3")
axB.set_xlabel("Year (CE)", fontsize=14.5, labelpad=3)
axB.set_ylabel("SH (from 1881-1980)(˚C)", fontsize=15, labelpad=5)
axB.text(0.055, 0.085, "(b) Southern Hemisphere", transform=axB.transAxes, fontsize=15,
         ha="left", va="center")
rows_b = [
    [("PS2004", "PS2004", 166), ("Ma..2008cpsl", "Ma..2008cpsl", 274),
     ("Ma..2008eivl", "Ma..2008eivl", 421), ("LO2011", "LO2011", 562)],
    [("Ma..2008eivf", "Ma..2008eivf", 166), ("HadCRUT3", "HadCRUT3 SH", 324),
     ("CRUTEM3", "CRUTEM3 SH", 484)],
]
for row, y_px in zip(rows_b, [718, 731]):
    for key, label, x_px in row:
        legend_entry(axB, BOX_B, key, label, x_px, y_px, 10.5, 2.5)

# ------------------------------- panel (c) ---------------------------------
axC = make_axes(BOX_C)
style_axes(axC, (-14, 2025), 14, 10, 6, 6, 8)
draw(axC, gl_lo_yr, gl_lo_t, "LO2011")
draw(axC, gl_eivl_yr, gl_eivl_t, "Ma..2008eivl")
draw(axC, gl_eivf_yr, gl_eivf_t, "Ma..2008eivf")
draw(axC, gl_ps_yr, gl_ps_t, "PS2004")
draw(axC, gl_cru_yr, gl_cru_t, "CRUTEM3")
draw(axC, gl_had_yr, gl_had_t, "HadCRUT3")
axC.set_xlabel("Year (CE)", fontsize=14.5, labelpad=3)
axC.set_ylabel("Global (°C from 1881-1980)", fontsize=15, labelpad=8)
axC.text(0.05, 0.085, "(c) Global", transform=axC.transAxes, fontsize=15,
         ha="left", va="center")
rows_c = [
    [("PS2004", "PS2004", 797), ("Ma..2008eivl", "Ma..2008eivl", 902), ("LO2011", "LO2011", 1051)],
    [("Ma..2008eivf", "Ma..2008eivf", 797), ("HadCRUT3", "HadCRUT3 GL", 955),
     ("CRUTEM3", "CRUTEM3 GL", 1119)],
]
for row, y_px in zip(rows_c, [718, 731]):
    for key, label, x_px in row:
        legend_entry(axC, BOX_C, key, label, x_px, y_px, 10.5, 2.5)

fig.savefig("out.png", dpi=100, facecolor="white")
